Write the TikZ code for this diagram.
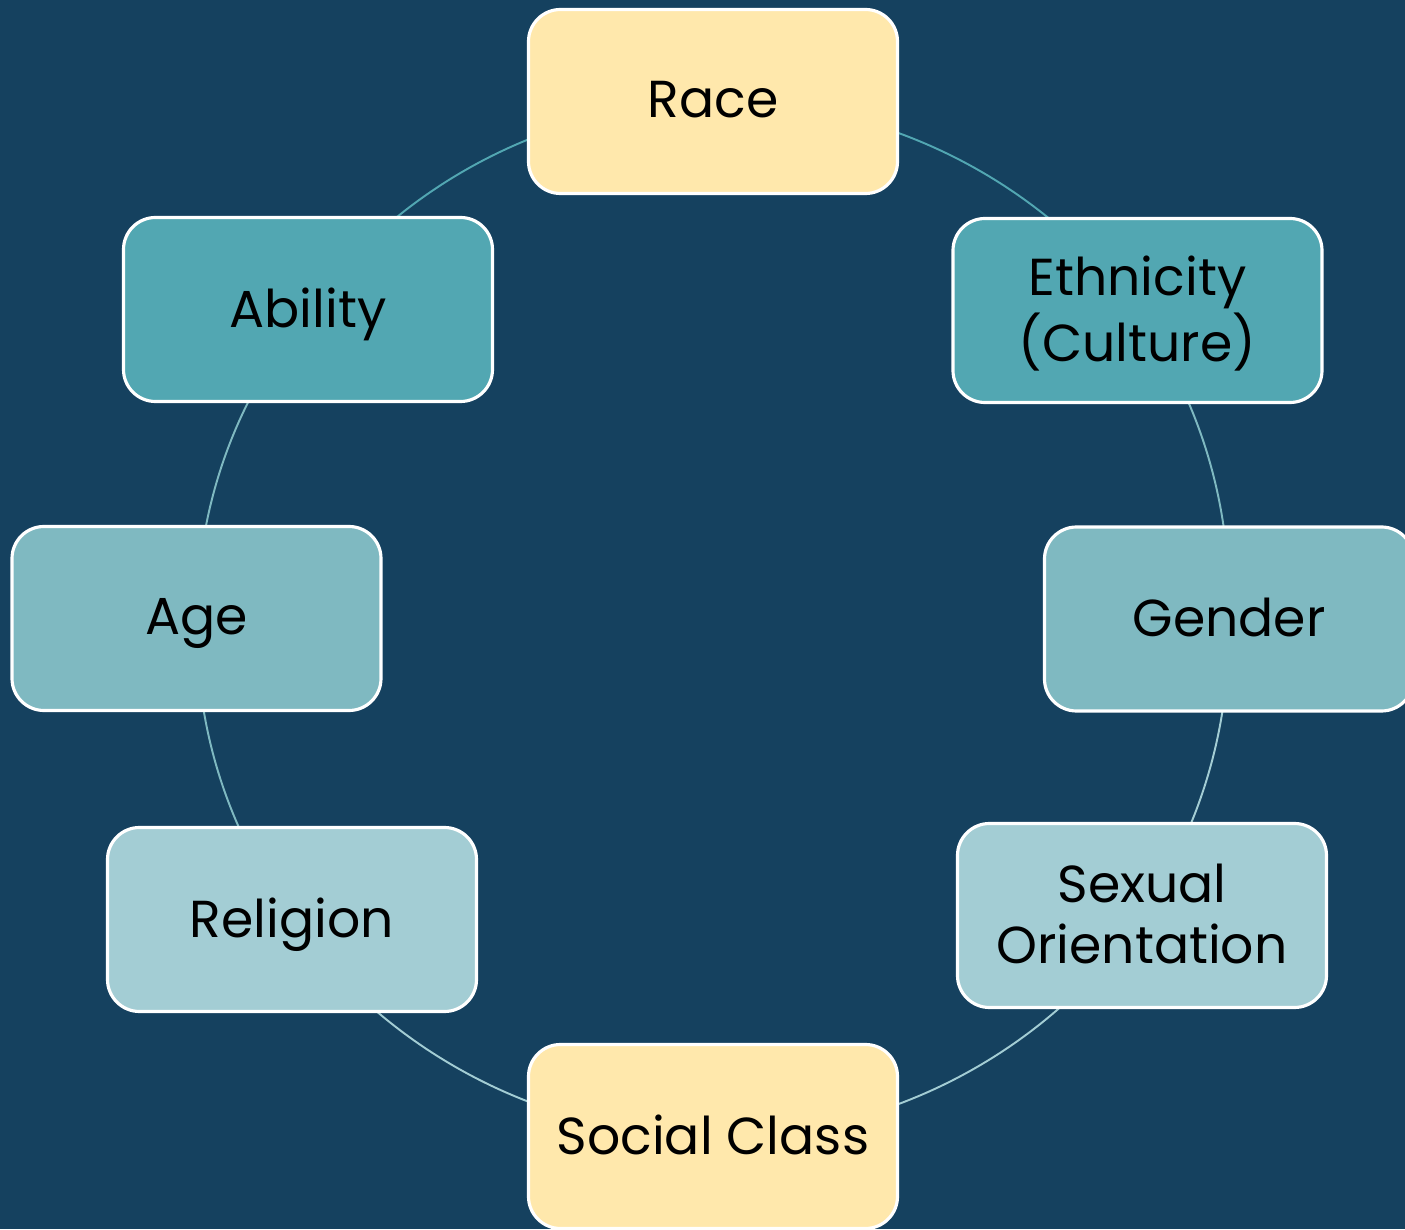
\documentclass[tikz,border=0pt]{standalone}
\usepackage{fontspec}
\setmainfont{Poppins}
\usepackage{tikz}
\usetikzlibrary{backgrounds}

\definecolor{navy}{HTML}{15415F}
\definecolor{sand}{HTML}{FFE8AC}
\definecolor{tealdark}{HTML}{52A7B2}
\definecolor{tealmid}{HTML}{7FB9C1}
\definecolor{teallight}{HTML}{A3CDD4}

\begin{document}
\begin{tikzpicture}[
    box/.style={draw=white, line width=0.9pt, rounded corners=0.32cm, align=center,
        minimum width=3.69cm, minimum height=1.84cm, text=black, text depth=1pt,
        font=\fontsize{14.8pt}{17.4pt}\selectfont},
    ring/.style={line width=0.55pt, looseness=0.9}
]
\useasboundingbox (0,0) rectangle (14.05,12.29);

\node[box, fill=sand] (race) at (7.13,11.275) {Race};
\node[box, fill=tealdark] (ethnicity) at (11.375,9.185) {Ethnicity\\(Culture)};
\node[box, fill=tealmid] (gender) at (12.29,6.10) {Gender};
\node[box, fill=teallight] (orientation) at (11.42,3.135) {Sexual\\Orientation};
\node[box, fill=sand] (class) at (7.13,0.925) {Social Class};
\node[box, fill=teallight] (religion) at (2.92,3.095) {Religion};
\node[box, fill=tealmid] (age) at (1.965,6.105) {Age};
\node[box, fill=tealdark] (ability) at (3.08,9.195) {Ability};

% the ring runs centre to centre behind the boxes
\begin{pgfonlayer}{background}
\fill[navy] (0,0) rectangle (14.05,12.29);
\draw[ring, tealdark] (race.center) to[bend left=27] (ethnicity.center);
\draw[ring, tealmid] (ethnicity.center) to[bend left=18] (gender.center);
\draw[ring, teallight] (gender.center) to[bend left=17] (orientation.center);
\draw[ring, teallight] (orientation.center) to[bend left=28] (class.center);
\draw[ring, teallight] (class.center) to[bend left=27] (religion.center);
\draw[ring, tealmid] (religion.center) to[bend left=18] (age.center);
\draw[ring, tealmid] (age.center) to[bend left=19] (ability.center);
\draw[ring, tealdark] (ability.center) to[bend left=26] (race.center);
\end{pgfonlayer}
\end{tikzpicture}
\end{document}
